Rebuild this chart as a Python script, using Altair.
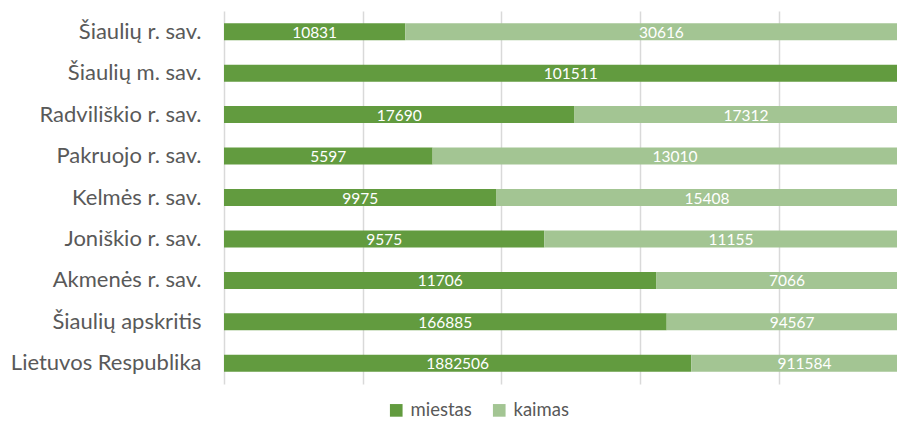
import altair as alt
import pandas as pd

categories = ["Šiaulių r. sav.", "Šiaulių m. sav.", "Radviliškio r. sav.",
              "Pakruojo r. sav.", "Kelmės r. sav.", "Joniškio r. sav.",
              "Akmenės r. sav.", "Šiaulių apskritis", "Lietuvos Respublika"]
miestas = [10831, 101511, 17690, 5597, 9975, 9575, 11706, 166885, 1882506]
kaimas = [30616, 0, 17312, 13010, 15408, 11155, 7066, 94567, 911584]
series = ["miestas", "kaimas"]
colors = ["#629B3F", "#A3C593"]

rows = []
for c, m, k in zip(categories, miestas, kaimas):
    tot = m + k
    rows.append(dict(cat=c, series="miestas", value=m, start=0.0, end=m / tot, order=0))
    rows.append(dict(cat=c, series="kaimas", value=k, start=m / tot, end=1.0, order=1))
df = pd.DataFrame(rows)
df["mid"] = (df["start"] + df["end"]) / 2
df["label"] = df["value"].astype(str)

xscale = alt.Scale(domain=[0, 0.9704], nice=False, zero=True)
yenc = alt.Y("cat:N", sort=categories, title=None,
             scale=alt.Scale(paddingInner=0.0, paddingOuter=0.0),
             axis=alt.Axis(labelFontSize=22, labelColor="#595959", labelFont="Lato",
                           labelLimit=400, ticks=False, domain=False, labelPadding=23,
                           grid=False))

bars = alt.Chart(df).mark_bar(size=17, clip=True).encode(
    x=alt.X("start:Q", scale=xscale, title=None,
            axis=alt.Axis(values=[0, 0.2, 0.4, 0.6, 0.8], labels=False, ticks=False,
                          domain=False, grid=True, gridColor="#D9D9D9", gridWidth=1.5)),
    x2="end:Q",
    y=yenc,
    color=alt.Color("series:N", scale=alt.Scale(domain=series, range=colors),
                    sort=series, title=None,
                    legend=alt.Legend(orient="none", direction="horizontal",
                                      legendX=163, legendY=390, symbolType="square",
                                      symbolSize=160, symbolStrokeWidth=0,
                                      labelFontSize=18.5, labelFont="Lato",
                                      labelColor="#595959", columnPadding=18,
                                      padding=0, labelOffset=5)),
    order="order:Q",
)

texts = alt.Chart(df).transform_filter("datum.value > 0").mark_text(
    color="white", fontSize=15.5, font="Lato", baseline="middle", align="center", dy=1
).encode(
    x=alt.X("mid:Q", scale=xscale),
    y=alt.Y("cat:N", sort=categories),
    text="label:N",
)

chart = alt.layer(bars, texts).properties(
    width=673, height=373,
    autosize=alt.AutoSizeParams(type="none"),
    padding={"left": 216, "top": 3, "right": 0, "bottom": 44},
).configure_view(stroke=None)

chart.save("out.html", embed_options={"renderer": "svg", "actions": False})
